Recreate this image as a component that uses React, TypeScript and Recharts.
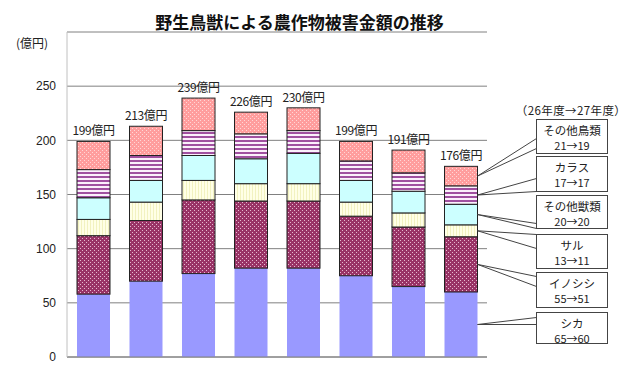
import { BarChart, Bar, XAxis, YAxis, CartesianGrid } from 'recharts';

const years = ['20年度', '21年度', '22年度', '23年度', '24年度', '25年度', '26年度', '27年度'];
const shika = [58, 70, 77, 82, 82, 75, 65, 60];
const inoshishi = [54, 56, 68, 62, 62, 55, 55, 51];
const saru = [15, 17, 18, 16, 16, 13, 13, 11];
const otherBeasts = [20, 20, 23, 23, 28, 20, 20, 19];
const karasu = [26, 23, 23, 23, 21, 18, 17, 17];
const otherBirds = [26, 27, 30, 20, 21, 18, 21, 18];
const totals = [199, 213, 239, 226, 230, 199, 191, 176];
const yTicks = [0, 50, 100, 150, 200, 250];

// callout legend, top to bottom
const legendNames = ['その他鳥類', 'カラス', 'その他獣類', 'サル', 'イノシシ', 'シカ'];
const legendChanges = ['21→19', '17→17', '20→20', '13→11', '55→51', '65→60'];

const data = years.map((year, i) => ({
  year,
  shika: shika[i],
  inoshishi: inoshishi[i],
  saru: saru[i],
  otherBeasts: otherBeasts[i],
  karasu: karasu[i],
  otherBirds: otherBirds[i],
}));

const JP = '"Noto Sans CJK JP", "Noto Sans", sans-serif';

// box layout for the callouts (top, height, where the two leader lines hit the box)
const BOX_X = 536.5;
const BOX_W = 71;
const boxLayout = [
  { top: 119.5, h: 34, a1: 19, a2: 29 },
  { top: 156.5, h: 35, a1: 22, a2: 35 },
  { top: 195.5, h: 33, a1: 28, a2: 33 },
  { top: 234.5, h: 34, a1: 0, a2: 14 },
  { top: 272.5, h: 35, a1: 4, a2: 14 },
  { top: 312.5, h: 31, a1: 5, a2: 12 },
];

const series = [
  { key: 'shika', fill: '#9999ff', stroke: 'none', legend: 5 },
  { key: 'inoshishi', fill: 'url(#pInoshishi)', stroke: '#222', legend: 4 },
  { key: 'saru', fill: 'url(#pSaru)', stroke: '#222', legend: 3 },
  { key: 'otherBeasts', fill: '#ccffff', stroke: '#222', legend: 2 },
  { key: 'karasu', fill: 'url(#pKarasu)', stroke: '#222', legend: 1 },
  { key: 'otherBirds', fill: 'url(#pBirds)', stroke: '#222', legend: 0 },
];

const makeShape = (s: typeof series[number]) => (props: any) => {
  const { x, y, width, height, index } = props;
  const isTop = s.key === 'otherBirds';
  const isLast = index === years.length - 1;
  const box = boxLayout[s.legend];
  const tipX = x + width;
  const tipY = y + height / 2;
  return (
    <g>
      <rect x={x} y={y} width={width} height={height} fill={s.fill} stroke={s.stroke} strokeWidth={1} />
      {isTop && (
        <text x={x + width / 2} y={y - 6} textAnchor="middle" fontSize={12} fill="#222" fontFamily={JP} letterSpacing={-0.4}>
          {totals[index]}億円
        </text>
      )}
      {isLast && (
        <g>
          <line x1={tipX} y1={tipY} x2={BOX_X} y2={box.top + box.a1} stroke="#444" strokeWidth={1} />
          <line x1={tipX} y1={tipY} x2={BOX_X} y2={box.top + box.a2} stroke="#444" strokeWidth={1} />
          <rect x={BOX_X} y={box.top} width={BOX_W} height={box.h} fill="#fff" stroke="#444" strokeWidth={1} />
          <text x={BOX_X + BOX_W / 2} y={box.top + 10} textAnchor="middle" dominantBaseline="central" fontSize={11.5} fill="#222" fontFamily={JP}>
            {legendNames[s.legend]}
          </text>
          <text x={BOX_X + BOX_W / 2} y={box.top + 25} textAnchor="middle" dominantBaseline="central" fontSize={11} fill="#222" fontFamily={JP}>
            {legendChanges[s.legend]}
          </text>
        </g>
      )}
    </g>
  );
};

export default function App() {
  return (
    <div style={{ position: 'absolute', left: 0, top: 0, width: 640, height: 374, background: '#fff' }}>
      <svg width={0} height={0} style={{ position: 'absolute' }}>
        <defs>
          <pattern id="pInoshishi" width={4} height={4} patternUnits="userSpaceOnUse">
            <rect width={4} height={4} fill="#993366" />
            <rect x={0} y={0} width={1} height={1} fill="#e6b8d0" />
            <rect x={2} y={2} width={1} height={1} fill="#e6b8d0" />
          </pattern>
          <pattern id="pBirds" width={4} height={4} patternUnits="userSpaceOnUse">
            <rect width={4} height={4} fill="#ff9d9d" />
            <rect x={0} y={0} width={1} height={1} fill="#ffd6d6" />
            <rect x={2} y={2} width={1} height={1} fill="#ffd6d6" />
          </pattern>
          <pattern id="pKarasu" width={4} height={4} patternUnits="userSpaceOnUse">
            <rect width={4} height={4} fill="#fbf0fb" />
            <rect x={0} y={0} width={4} height={2} fill="#a050a0" />
          </pattern>
          <pattern id="pSaru" width={3} height={3} patternUnits="userSpaceOnUse">
            <rect width={3} height={3} fill="#ffffe6" />
            <rect x={0} y={0} width={1} height={3} fill="#f2f2c0" />
          </pattern>
        </defs>
      </svg>
      <div style={{ position: 'absolute', left: 0, top: 11, width: 599, textAlign: 'center', fontFamily: JP, fontWeight: 700, fontSize: 17, lineHeight: '22px', color: '#111' }}>
        野生鳥獣による農作物被害金額の推移
      </div>
      <div style={{ position: 'absolute', left: 16, top: 36, fontFamily: JP, fontSize: 12, lineHeight: '14px', color: '#222' }}>
        (億円)
      </div>
      <div style={{ position: 'absolute', left: 471, top: 102, width: 200, textAlign: 'center', fontFamily: JP, fontSize: 11.5, letterSpacing: 0.4, lineHeight: '16px', color: '#222' }}>
        （26年度→27年度）
      </div>
      <BarChart
        width={640}
        height={374}
        data={data}
        margin={{ top: 32, right: 153, bottom: 16, left: 0 }}
        barSize={33}
      >
        <CartesianGrid vertical={false} stroke="#808080" />
        <XAxis dataKey="year" height={1} tick={false} tickLine={false} axisLine={{ stroke: '#808080' }} />
        <YAxis
          width={67}
          domain={[0, 300]}
          ticks={yTicks}
          tickLine={false}
          tickSize={6}
          tickMargin={5}
          axisLine={{ stroke: '#c0c0c0' }}
          tick={{ fontSize: 12, fill: '#222', fontFamily: '"Liberation Sans", Arial, sans-serif' }}
        />
        {series.map((s) => (
          <Bar key={s.key} dataKey={s.key} stackId="a" isAnimationActive={false} shape={makeShape(s)} />
        ))}
      </BarChart>
    </div>
  );
}
